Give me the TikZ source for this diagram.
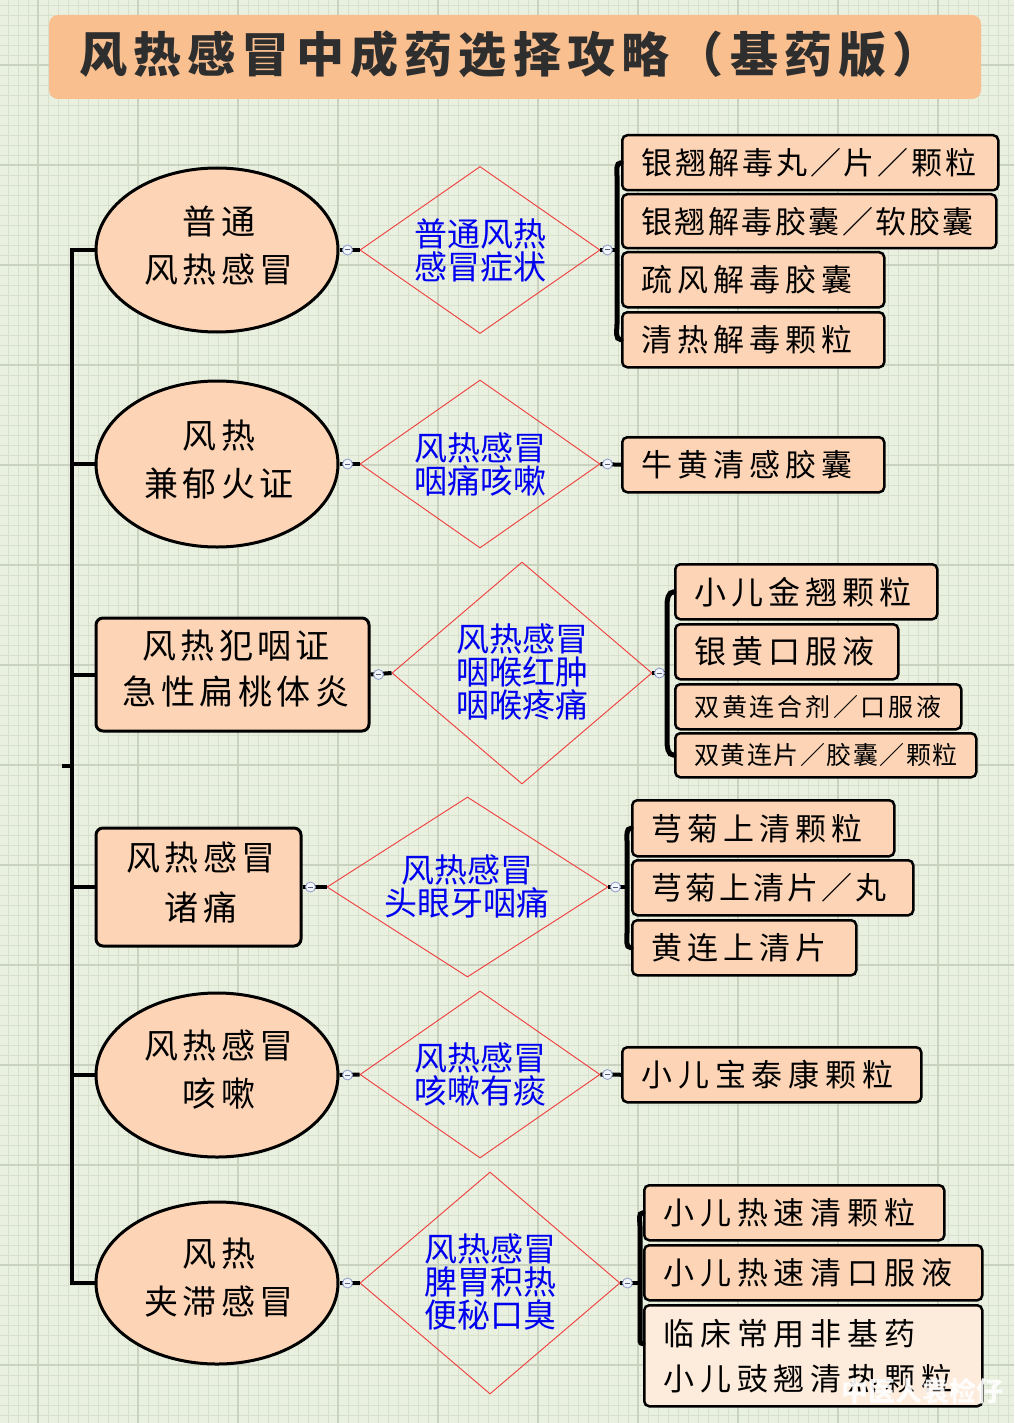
\documentclass[tikz,border=0pt]{standalone}
\usepackage{fontspec}
\usetikzlibrary{shapes.geometric}
\newfontfamily\cjk{Noto Sans CJK SC}
\definecolor{bgcol}{HTML}{E9F0DF}
\definecolor{gridfine}{HTML}{D7E0CD}
\definecolor{gridbold}{HTML}{C8D2BF}
\definecolor{titlefill}{HTML}{F9BF8F}
\definecolor{titletext}{HTML}{2E2E2E}
\definecolor{nodefill}{HTML}{FDD5B6}
\definecolor{lightfill}{HTML}{FDEBDB}
\definecolor{diared}{HTML}{F03C3C}
\definecolor{bluetext}{HTML}{0000F0}
\definecolor{iconfill}{HTML}{F2F5FC}
\definecolor{iconline}{HTML}{8C9CC8}
\newcommand\fsz[3]{\fontsize{#1}{#2}\cjk\addfontfeature{LetterSpace=#3}}
\newcommand\leaf[8]{\node[leafbox, fill=#6, minimum height=#5, text width=#4, font=#7] (#1) at (#2,#3) {#8};}
\begin{document}
\begin{tikzpicture}[x=1pt,y=-1pt,
  conn/.style={line width=4, black},
  brk/.style={line width=5, black, line cap=round},
  mainnode/.style={draw=black, line width=3, fill=nodefill},
  ell/.style={mainnode, ellipse, minimum width=242, minimum height=164, inner sep=0},
  lrect/.style={mainnode, rounded corners=7, inner sep=0},
  dia/.style={draw=diared, line width=0.9, diamond, inner sep=0},
  btxt/.style={text=bluetext, font=\fsz{33}{33}{0}, align=center, inner sep=0},
  ltxt/.style={text=black, font=\fsz{34}{48}{13}, align=center, inner sep=0},
  leafbox/.style={draw=black, line width=2.5, rounded corners=5, anchor=north west, align=left, inner xsep=19, inner ysep=0, text=black},
  icon/.style={circle, draw=iconline, fill=iconfill, line width=0.8, minimum size=10, inner sep=0,
    path picture={\draw[iconline!60!black, line width=1] ([xshift=-2.6]path picture bounding box.center) -- ([xshift=2.6]path picture bounding box.center);}}
]
\useasboundingbox (0,0) rectangle (1014,1423);
% background and grid
\fill[bgcol] (0,0) rectangle (1014,1423);
\foreach \i in {0,...,100} {\draw[gridfine, line width=0.8] (8+10*\i,0) -- (8+10*\i,1423);}
\foreach \i in {0,...,141} {\draw[gridfine, line width=0.8] (0,5+10*\i) -- (1014,5+10*\i);}
\foreach \i in {0,...,9} {\draw[gridbold, line width=1.1] (38+100*\i,0) -- (38+100*\i,1423);}
\foreach \i in {0,...,13} {\draw[gridbold, line width=1.1] (0,65+100*\i) -- (1014,65+100*\i);}

% title
\node[fill=titlefill, rounded corners=9, minimum width=932, minimum height=84, inner sep=0] (titlebox) at (515,57) {};
\node[text=titletext, font=\fsz{48}{48}{13}\bfseries, inner sep=0] (titletxt) at (510,54) {风热感冒中成药选择攻略（基药版）};

% left nodes
\node[ell] (n1) at (217,250) {};
\node[ltxt] (t1) at (219,246) {普通\\风热感冒};
\node[ell, minimum height=166] (n2) at (217,464) {};
\node[ltxt] (t2) at (219,460) {风热\\兼郁火证};
\node[lrect, minimum width=273, minimum height=113] (n3) at (232.5,674.5) {};
\node[ltxt, font=\fsz{34}{46}{13}] (t3) at (236,669) {风热犯咽证\\急性扁桃体炎};
\node[lrect, minimum width=205, minimum height=118] (n4) at (198.5,887) {};
\node[ltxt, font=\fsz{34}{50}{13}] (t4) at (201,883) {风热感冒\\诸痛};
\node[ell] (n5) at (217,1075) {};
\node[ltxt] (t5) at (219,1070) {风热感冒\\咳嗽};
\node[ell, minimum height=162] (n6) at (217,1283) {};
\node[ltxt] (t6) at (219,1278) {风热\\夹滞感冒};

% diamonds
\node[dia, minimum width=240, minimum height=167] (d1) at (480,250) {};
\node[btxt] (b1txt) at (480,250) {普通风热\\感冒症状};
\node[dia, minimum width=240, minimum height=168] (d2) at (480,464) {};
\node[btxt] (b2txt) at (480,464) {风热感冒\\咽痛咳嗽};
\node[dia, minimum width=260, minimum height=222] (d3) at (522,673) {};
\node[btxt] (b3txt) at (522,672) {风热感冒\\咽喉红肿\\咽喉疼痛};
\node[dia, minimum width=281, minimum height=180] (d4) at (467.5,887) {};
\node[btxt] (b4txt) at (467,886) {风热感冒\\头眼牙咽痛};
\node[dia, minimum width=240, minimum height=167] (d5) at (480,1074.5) {};
\node[btxt] (b5txt) at (480,1074) {风热感冒\\咳嗽有痰};
\node[dia, minimum width=260, minimum height=222] (d6) at (490,1283) {};
\node[btxt] (b6txt) at (490,1282) {风热感冒\\脾胃积热\\便秘口臭};

% leaves group 1
\leaf{L11}{621}{134}{338}{55}{nodefill}{\fsz{31}{31}{9}}{银翘解毒丸／片／颗粒}
\leaf{L12}{621}{193}{336}{54}{nodefill}{\fsz{31}{31}{8}}{银翘解毒胶囊／软胶囊}
\leaf{L13}{621}{251}{224}{55}{nodefill}{\fsz{31}{31}{16}}{疏风解毒胶囊}
\leaf{L14}{621}{311}{224}{55}{nodefill}{\fsz{31}{31}{16}}{清热解毒颗粒}
% group 2
\leaf{L21}{621}{436}{224}{55}{nodefill}{\fsz{31}{31}{16}}{牛黄清感胶囊}
% group 3
\leaf{L31}{674}{563}{224}{55}{nodefill}{\fsz{32}{32}{16}}{小儿金翘颗粒}
\leaf{L32}{674}{623}{185}{55}{nodefill}{\fsz{32}{32}{16}}{银黄口服液}
\leaf{L33}{674}{683}{248}{45}{nodefill}{\fsz{25}{25}{11}}{双黄连合剂／口服液}
\leaf{L34}{674}{732}{263}{44}{nodefill}{\fsz{25}{25}{6}}{双黄连片／胶囊／颗粒}
% group 4
\leaf{L41}{631}{799}{224}{56}{nodefill}{\fsz{31}{31}{16}}{芎菊上清颗粒}
\leaf{L42}{631}{859}{243}{55}{nodefill}{\fsz{31}{31}{10}}{芎菊上清片／丸}
\leaf{L43}{631}{919}{186}{55}{nodefill}{\fsz{31}{31}{16}}{黄连上清片}
% group 5
\leaf{L51}{621}{1046}{261}{55}{nodefill}{\fsz{31}{31}{19}}{小儿宝泰康颗粒}
% group 6
\leaf{L61}{643}{1184}{262}{55}{nodefill}{\fsz{31}{31}{19}}{小儿热速清颗粒}
\leaf{L62}{643}{1244}{300}{55}{nodefill}{\fsz{31}{31}{19}}{小儿热速清口服液}
\leaf{L63}{643}{1304}{300}{101}{lightfill}{\fsz{31}{45}{19}}{临床常用非基药\\小儿豉翘清热颗粒}

% spine
\coordinate (sp1) at (72,250);
\coordinate (sp2) at (72,464);
\coordinate (sp3) at (72,674.5);
\coordinate (sp4) at (72,887);
\coordinate (sp5) at (72,1075);
\coordinate (sp6) at (72,1283);
\coordinate (tkl) at (62,766);
\coordinate (tkr) at (72,766);
\draw[conn] (n1.west) -- (sp1) -- (sp6) -- (n6.west);
\draw[conn] (sp2) -- (n2.west);
\draw[conn] (sp3) -- (n3.west);
\draw[conn] (sp4) -- (n4.west);
\draw[conn] (sp5) -- (n5.west);
\draw[conn] (tkl) -- (tkr);

% node to diamond
\foreach \a/\b in {n1/d1,n2/d2,n3/d3,n4/d4,n5/d5,n6/d6} {
  \draw[conn] (\a.east) -- (\b.west);
}

% bracket coordinates
\coordinate (k1) at (617,250); \coordinate (k1t) at (617,176); \coordinate (k1b) at (617,324);
\coordinate (k3) at (667,673); \coordinate (k3t) at (667,606); \coordinate (k3b) at (667,740);
\coordinate (k4) at (627,887); \coordinate (k4t) at (627,841); \coordinate (k4b) at (627,933);
\coordinate (k6) at (640,1283); \coordinate (k6t) at (640,1226); \coordinate (k6b) at (640,1341);

\draw[conn] (d1.east) -- (k1);
\draw[brk] (L11.west) to[out=180,in=90] (k1t) -- (k1b) to[out=-90,in=180] (L14.west);
\draw[conn] (d2.east) -- (L21.west);
\draw[conn] (d3.east) -- (k3);
\draw[brk] (L31.west) to[out=180,in=90] (k3t) -- (k3b) to[out=-90,in=180] (L34.west);
\draw[conn] (d4.east) -- (k4);
\draw[brk] (L41.west) to[out=180,in=90] (k4t) -- (k4b) to[out=-90,in=180] (L43.west);
\draw[conn] (d5.east) -- (L51.west);
\draw[conn] (d6.east) -- (k6);
\draw[brk] (L61.west) to[out=180,in=90] (k6t) -- (k6b) to[out=-90,in=180] ([yshift=12]L63.west);

% collapse icons
\node[icon] (i1) at ([xshift=8]n1.east) {};
\node[icon] (i2) at ([xshift=8]n2.east) {};
\node[icon] (i3) at ([xshift=8]n3.east) {};
\node[icon] (i4) at ([xshift=8]n4.east) {};
\node[icon] (i5) at ([xshift=8]n5.east) {};
\node[icon] (i6) at ([xshift=8]n6.east) {};
\node[icon] (j1) at ([xshift=7]d1.east) {};
\node[icon] (j2) at ([xshift=7]d2.east) {};
\node[icon] (j3) at ([xshift=7]d3.east) {};
\node[icon] (j4) at ([xshift=7]d4.east) {};
\node[icon] (j5) at ([xshift=7]d5.east) {};
\node[icon] (j6) at ([xshift=7]d6.east) {};

% watermark
\node[text=white, font=\fsz{27}{27}{0}\bfseries, inner sep=0, opacity=0.9] (wm) at (922.5,1391.5) {中医人袁检仔};
\end{tikzpicture}
\end{document}
